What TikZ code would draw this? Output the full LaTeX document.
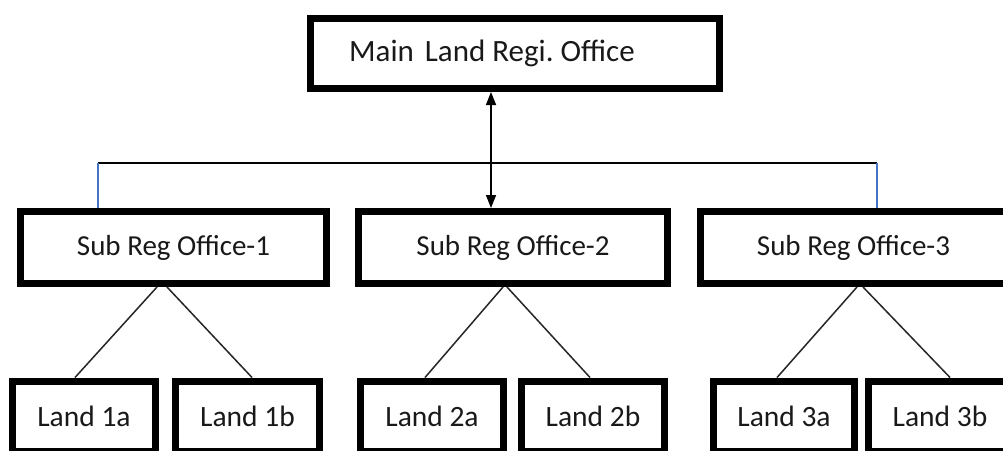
\documentclass[tikz,border=0pt]{standalone}
\usepackage{fontspec}
\setmainfont{Carlito}
\usetikzlibrary{arrows.meta}
\definecolor{linkblue}{RGB}{68,114,196}
\frenchspacing
\begin{document}
\begin{tikzpicture}[x=1pt,y=-1pt,
  box/.style={draw=black,line width=7pt,fill=white,rectangle,inner sep=0pt,text=black!90},
  mainbox/.style={box,minimum width=409pt,minimum height=70pt,font=\fontsize{31}{37}\selectfont},
  subbox/.style={box,minimum width=306pt,minimum height=72pt,font=\fontsize{29}{35}\selectfont},
  landbox/.style={box,minimum width=143pt,minimum height=70pt,font=\fontsize{29.5}{35}\selectfont},
  conn/.style={draw=black!85,line width=1.5pt},
  bus/.style={draw=black,line width=1.3pt},
  drop/.style={draw=linkblue,line width=1.3pt}]
\useasboundingbox (0,0) rectangle (1003,450);
\clip (0,0) rectangle (1003,450);
\fill[white] (0,0) rectangle (1003,450);

\node[mainbox] (main) at (515,53.5) {Main\hspace{4pt} Land Regi.\ Office\hspace*{46pt}};

\node[subbox] (s1) at (173.5,247.5) {Sub Reg Office-1};
\node[subbox,minimum width=309pt] (s2) at (513,247.5) {Sub Reg Office-2};
\node[subbox] (s3) at (853.5,247.5) {Sub Reg Office-3};

\node[landbox] (l1a) at (84,416) {Land 1a};
\node[landbox,minimum width=144pt] (l1b) at (247.5,416) {Land 1b};
\node[landbox] (l2a) at (432,416) {Land 2a};
\node[landbox] (l2b) at (593,416) {Land 2b};
\node[landbox,minimum width=141pt] (l3a) at (784,416) {Land 3a};
\node[landbox] (l3b) at (940,416) {Land 3b};

% bus line
\coordinate (hl) at (98,163);
\coordinate (hr) at (877,163);
\draw[bus] (hl) -- (hr);
\draw[drop] (hl) -- ([xshift=-75.5pt]s1.north);
\draw[drop] (hr) -- ([xshift=23.5pt]s3.north);

% double arrow
\draw[line width=1.5pt,{Triangle[width=10pt,length=13pt]}-{Triangle[width=10pt,length=13pt]}]
  ([xshift=-24pt]main.south) -- ([xshift=-22pt]s2.north);

% tree connectors
\draw[conn] ([xshift=-16.5pt]s1.south) -- ([xshift=-9pt]l1a.north);
\draw[conn] ([xshift=-6.5pt]s1.south) -- ([xshift=4.5pt]l1b.north);
\draw[conn] ([xshift=-10pt]s2.south) -- ([xshift=-7pt]l2a.north);
\draw[conn] ([xshift=-6pt]s2.south) -- ([xshift=-3pt]l2b.north);
\draw[conn] ([xshift=3.5pt]s3.south) -- ([xshift=-7pt]l3a.north);
\draw[conn] ([xshift=9.5pt]s3.south) -- ([xshift=10pt]l3b.north);
\end{tikzpicture}
\end{document}
